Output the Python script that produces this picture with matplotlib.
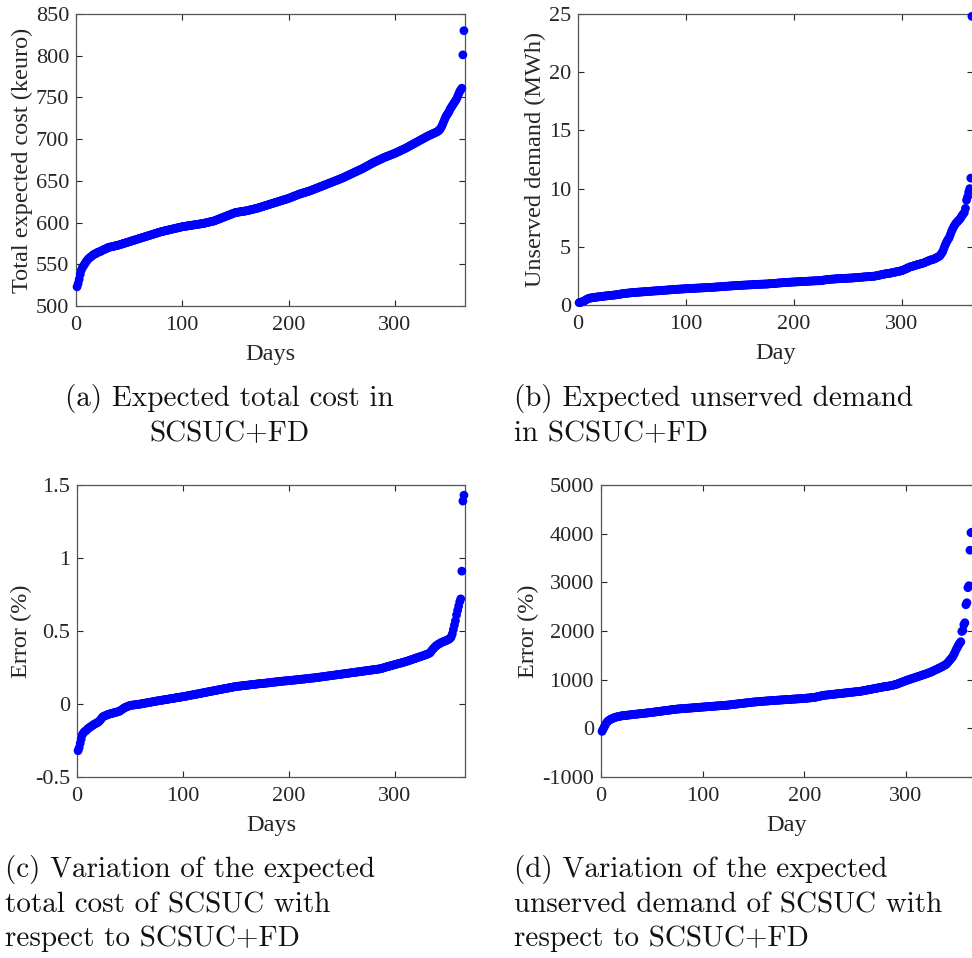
import matplotlib
matplotlib.use("Agg")
import matplotlib.pyplot as plt

# Sorted daily results over one year (365 days)
days = list(range(1, 366))

total_cost_keuro = [
    523, 527, 532, 538, 543, 546, 548, 550, 552, 554,
    555.5, 557, 558, 559, 560, 561, 562, 562.5, 563, 564,
    564.5, 565, 565.5, 566, 567, 567.5, 568, 568.5, 569, 570,
    570.3, 570.6, 570.9, 571.2, 571.5, 571.8, 572.1, 572.4, 572.7, 573,
    573.4, 573.8, 574.2, 574.6, 575, 575.4, 575.8, 576.2, 576.6, 577,
    577.4, 577.8, 578.2, 578.6, 579, 579.4, 579.8, 580.2, 580.6, 581,
    581.4, 581.8, 582.2, 582.6, 583, 583.4, 583.8, 584.2, 584.6, 585,
    585.4, 585.8, 586.2, 586.6, 587, 587.4, 587.8, 588.2, 588.6, 589,
    589.3, 589.6, 589.9, 590.2, 590.5, 590.8, 591.1, 591.4, 591.7, 592,
    592.3, 592.6, 592.9, 593.2, 593.5, 593.8, 594.1, 594.4, 594.7, 595,
    595.2, 595.4, 595.6, 595.8, 596, 596.2, 596.4, 596.6, 596.8, 597,
    597.2, 597.4, 597.6, 597.8, 598, 598.2, 598.4, 598.6, 598.8, 599,
    599.3, 599.6, 599.9, 600.2, 600.5, 600.8, 601.1, 601.4, 601.7, 602,
    602.5, 603, 603.5, 604, 604.5, 605, 605.5, 606, 606.5, 607,
    607.5, 608, 608.5, 609, 609.5, 610, 610.5, 611, 611.5, 612,
    612.2, 612.4, 612.6, 612.8, 613, 613.2, 613.4, 613.6, 613.8, 614,
    614.3, 614.6, 614.9, 615.2, 615.5, 615.8, 616.1, 616.4, 616.7, 617,
    617.4, 617.8, 618.2, 618.6, 619, 619.4, 619.8, 620.2, 620.6, 621,
    621.4, 621.8, 622.2, 622.6, 623, 623.4, 623.8, 624.2, 624.6, 625,
    625.4, 625.8, 626.2, 626.6, 627, 627.4, 627.8, 628.2, 628.6, 629,
    629.5, 630, 630.5, 631, 631.5, 632, 632.5, 633, 633.5, 634,
    634.4, 634.8, 635.2, 635.6, 636, 636.4, 636.8, 637.2, 637.6, 638,
    638.5, 639, 639.5, 640, 640.5, 641, 641.5, 642, 642.5, 643,
    643.5, 644, 644.5, 645, 645.5, 646, 646.5, 647, 647.5, 648,
    648.5, 649, 649.5, 650, 650.5, 651, 651.5, 652, 652.5, 653,
    653.6, 654.2, 654.8, 655.4, 656, 656.6, 657.2, 657.8, 658.4, 659,
    659.6, 660.2, 660.8, 661.4, 662, 662.6, 663.2, 663.8, 664.4, 665,
    665.7, 666.4, 667.1, 667.8, 668.5, 669.2, 669.9, 670.6, 671.3, 672,
    672.6, 673.2, 673.8, 674.4, 675, 675.6, 676.2, 676.8, 677.4, 678,
    678.5, 679, 679.5, 680, 680.5, 681, 681.5, 682, 682.5, 683,
    683.6, 684.2, 684.8, 685.4, 686, 686.6, 687.2, 687.8, 688.4, 689,
    689.7, 690.4, 691.1, 691.8, 692.5, 693.2, 693.9, 694.6, 695.3, 696,
    696.7, 697.4, 698.1, 698.8, 699.5, 700.2, 700.9, 701.6, 702.3, 703,
    703.6, 704.2, 704.8, 705.4, 706, 706.6, 707.2, 707.8, 708.4, 709,
    710, 711, 713, 715, 718, 721, 724, 727, 729, 731,
    733, 736, 738, 740, 742, 744, 746, 748, 751, 754,
    757, 759, 761, 801, 830,
]

unserved_mwh = [
    0.2, 0.22, 0.25, 0.28, 0.3, 0.36, 0.42, 0.48, 0.53, 0.57,
    0.59, 0.61, 0.62, 0.64, 0.65, 0.66, 0.68, 0.69, 0.7, 0.71,
    0.72, 0.73, 0.74, 0.76, 0.77, 0.78, 0.79, 0.8, 0.81, 0.82,
    0.83, 0.84, 0.85, 0.86, 0.87, 0.89, 0.9, 0.92, 0.93, 0.95,
    0.96, 0.98, 0.99, 1.0, 1.01, 1.02, 1.03, 1.04, 1.05, 1.06,
    1.07, 1.07, 1.08, 1.09, 1.1, 1.1, 1.11, 1.12, 1.12, 1.13,
    1.14, 1.14, 1.15, 1.16, 1.16, 1.17, 1.18, 1.19, 1.19, 1.2,
    1.21, 1.21, 1.22, 1.22, 1.23, 1.24, 1.24, 1.25, 1.26, 1.27,
    1.27, 1.28, 1.29, 1.3, 1.3, 1.31, 1.32, 1.33, 1.33, 1.34,
    1.35, 1.35, 1.36, 1.36, 1.37, 1.37, 1.38, 1.39, 1.39, 1.4,
    1.4, 1.41, 1.41, 1.42, 1.42, 1.43, 1.43, 1.44, 1.44, 1.45,
    1.45, 1.46, 1.46, 1.47, 1.47, 1.48, 1.48, 1.49, 1.49, 1.5,
    1.5, 1.51, 1.51, 1.52, 1.52, 1.53, 1.54, 1.54, 1.55, 1.56,
    1.56, 1.57, 1.58, 1.59, 1.59, 1.6, 1.61, 1.61, 1.62, 1.63,
    1.63, 1.64, 1.65, 1.65, 1.66, 1.67, 1.67, 1.68, 1.68, 1.69,
    1.69, 1.7, 1.7, 1.71, 1.71, 1.72, 1.72, 1.73, 1.73, 1.74,
    1.74, 1.75, 1.75, 1.76, 1.76, 1.77, 1.77, 1.78, 1.78, 1.79,
    1.79, 1.79, 1.8, 1.8, 1.8, 1.81, 1.82, 1.83, 1.83, 1.84,
    1.85, 1.86, 1.86, 1.87, 1.88, 1.89, 1.9, 1.9, 1.91, 1.92,
    1.92, 1.93, 1.94, 1.94, 1.95, 1.95, 1.96, 1.97, 1.97, 1.98,
    1.98, 1.99, 1.99, 2.0, 2.0, 2.01, 2.01, 2.02, 2.02, 2.03,
    2.03, 2.04, 2.04, 2.05, 2.05, 2.06, 2.06, 2.07, 2.07, 2.08,
    2.08, 2.08, 2.09, 2.09, 2.09, 2.11, 2.13, 2.14, 2.16, 2.17,
    2.18, 2.19, 2.2, 2.21, 2.22, 2.22, 2.23, 2.24, 2.25, 2.25,
    2.26, 2.26, 2.27, 2.27, 2.28, 2.28, 2.29, 2.29, 2.3, 2.3,
    2.31, 2.31, 2.32, 2.32, 2.33, 2.34, 2.34, 2.35, 2.36, 2.37,
    2.38, 2.38, 2.39, 2.4, 2.41, 2.42, 2.42, 2.43, 2.44, 2.45,
    2.45, 2.46, 2.47, 2.47, 2.48, 2.5, 2.52, 2.54, 2.56, 2.58,
    2.6, 2.62, 2.64, 2.66, 2.68, 2.69, 2.7, 2.72, 2.73, 2.75,
    2.77, 2.79, 2.81, 2.83, 2.85, 2.87, 2.89, 2.91, 2.93, 2.95,
    2.99, 3.03, 3.07, 3.11, 3.15, 3.2, 3.25, 3.28, 3.3, 3.33,
    3.36, 3.39, 3.42, 3.45, 3.48, 3.5, 3.53, 3.55, 3.58, 3.6,
    3.64, 3.68, 3.72, 3.76, 3.8, 3.85, 3.87, 3.89, 3.92, 3.95,
    4.0, 4.05, 4.1, 4.15, 4.2, 4.32, 4.45, 4.6, 4.85, 5.1,
    5.3, 5.5, 5.65, 5.8, 6.05, 6.3, 6.5, 6.7, 6.85, 7.0,
    7.1, 7.2, 7.3, 7.4, 7.55, 7.7, 7.82, 7.95, 8.3, 9.0,
    9.3, 9.7, 10.0, 10.9, 24.8,
]

cost_error_pct = [
    -0.32, -0.3, -0.27, -0.24, -0.21, -0.2, -0.19, -0.185, -0.18, -0.17,
    -0.165, -0.16, -0.155, -0.15, -0.145, -0.14, -0.136, -0.132, -0.128, -0.125,
    -0.118, -0.11, -0.1, -0.09, -0.085, -0.082, -0.079, -0.076, -0.073, -0.07,
    -0.068, -0.066, -0.064, -0.062, -0.06, -0.058, -0.056, -0.054, -0.052, -0.05,
    -0.045, -0.04, -0.035, -0.03, -0.025, -0.022, -0.019, -0.016, -0.013, -0.01,
    -0.009, -0.008, -0.007, -0.006, -0.005, -0.004, -0.003, -0.002, -0.001, 0.0,
    0.001, 0.003, 0.004, 0.005, 0.007, 0.008, 0.009, 0.011, 0.012, 0.013,
    0.015, 0.016, 0.017, 0.019, 0.02, 0.021, 0.022, 0.024, 0.025, 0.026,
    0.027, 0.028, 0.03, 0.031, 0.032, 0.033, 0.034, 0.036, 0.037, 0.038,
    0.039, 0.04, 0.042, 0.043, 0.044, 0.045, 0.046, 0.048, 0.049, 0.05,
    0.051, 0.053, 0.054, 0.055, 0.057, 0.058, 0.06, 0.061, 0.062, 0.064,
    0.065, 0.067, 0.068, 0.069, 0.071, 0.072, 0.074, 0.075, 0.076, 0.078,
    0.079, 0.081, 0.082, 0.084, 0.085, 0.086, 0.088, 0.089, 0.091, 0.092,
    0.093, 0.095, 0.096, 0.098, 0.099, 0.1, 0.102, 0.103, 0.105, 0.106,
    0.107, 0.109, 0.11, 0.112, 0.113, 0.114, 0.116, 0.117, 0.119, 0.12,
    0.121, 0.122, 0.122, 0.123, 0.124, 0.125, 0.126, 0.127, 0.128, 0.128,
    0.129, 0.13, 0.131, 0.132, 0.133, 0.134, 0.134, 0.135, 0.136, 0.137,
    0.138, 0.139, 0.139, 0.14, 0.14, 0.141, 0.142, 0.143, 0.144, 0.145,
    0.145, 0.146, 0.147, 0.148, 0.149, 0.15, 0.151, 0.151, 0.152, 0.153,
    0.154, 0.155, 0.156, 0.156, 0.157, 0.158, 0.158, 0.159, 0.16, 0.16,
    0.161, 0.162, 0.163, 0.163, 0.164, 0.165, 0.166, 0.166, 0.167, 0.168,
    0.169, 0.17, 0.17, 0.171, 0.172, 0.173, 0.174, 0.175, 0.176, 0.176,
    0.177, 0.178, 0.178, 0.179, 0.18, 0.181, 0.182, 0.183, 0.184, 0.185,
    0.186, 0.187, 0.188, 0.189, 0.19, 0.191, 0.192, 0.193, 0.194, 0.195,
    0.196, 0.197, 0.198, 0.199, 0.2, 0.201, 0.202, 0.203, 0.204, 0.205,
    0.206, 0.207, 0.208, 0.209, 0.21, 0.211, 0.212, 0.213, 0.214, 0.215,
    0.216, 0.217, 0.218, 0.219, 0.22, 0.221, 0.222, 0.223, 0.224, 0.225,
    0.226, 0.227, 0.228, 0.229, 0.23, 0.231, 0.232, 0.233, 0.234, 0.235,
    0.236, 0.237, 0.238, 0.239, 0.24, 0.241, 0.243, 0.245, 0.247, 0.25,
    0.252, 0.254, 0.256, 0.258, 0.26, 0.262, 0.264, 0.266, 0.268, 0.27,
    0.272, 0.274, 0.276, 0.278, 0.28, 0.282, 0.284, 0.286, 0.288, 0.29,
    0.292, 0.295, 0.297, 0.3, 0.302, 0.305, 0.307, 0.31, 0.312, 0.315,
    0.318, 0.32, 0.322, 0.325, 0.327, 0.33, 0.332, 0.335, 0.337, 0.34,
    0.343, 0.347, 0.35, 0.36, 0.37, 0.378, 0.386, 0.393, 0.4, 0.405,
    0.41, 0.414, 0.418, 0.422, 0.425, 0.428, 0.431, 0.434, 0.437, 0.44,
    0.445, 0.45, 0.46, 0.48, 0.51, 0.54, 0.57, 0.61, 0.64, 0.67,
    0.7, 0.72, 0.91, 1.39, 1.43,
]

unserved_error_pct = [
    -63, -20, 20, 60, 100, 130, 150, 165, 180, 190,
    200, 209, 217, 225, 232, 237, 242, 246, 251, 255,
    258, 261, 263, 265, 268, 270, 273, 275, 278, 280,
    282, 285, 287, 290, 292, 294, 297, 299, 301, 304,
    306, 308, 311, 313, 315, 318, 320, 322, 325, 327,
    330, 333, 336, 338, 341, 344, 347, 350, 352, 355,
    358, 361, 363, 366, 369, 372, 374, 377, 380, 383,
    385, 388, 390, 393, 396, 398, 399, 401, 403, 404,
    406, 407, 409, 411, 412, 414, 415, 417, 419, 420,
    422, 424, 425, 427, 429, 430, 432, 434, 435, 437,
    439, 440, 442, 443, 445, 447, 448, 450, 451, 453,
    455, 456, 458, 460, 461, 463, 465, 466, 468, 470,
    471, 473, 474, 476, 478, 480, 483, 485, 488, 490,
    493, 495, 498, 500, 503, 505, 508, 510, 512, 515,
    518, 520, 522, 525, 527, 530, 532, 535, 537, 540,
    542, 543, 545, 547, 548, 550, 552, 553, 555, 557,
    558, 560, 562, 563, 565, 567, 568, 570, 572, 573,
    575, 576, 577, 578, 580, 581, 583, 584, 586, 587,
    588, 590, 591, 593, 594, 595, 597, 598, 600, 601,
    602, 604, 605, 606, 608, 609, 610, 612, 613, 615,
    617, 619, 621, 623, 625, 627, 629, 631, 633, 635,
    640, 645, 650, 655, 660, 664, 668, 672, 676, 680,
    682, 684, 687, 689, 691, 694, 696, 698, 701, 703,
    705, 708, 710, 712, 715, 717, 719, 722, 724, 726,
    728, 731, 733, 735, 738, 740, 742, 745, 747, 750,
    752, 754, 756, 758, 760, 764, 768, 772, 776, 780,
    784, 788, 792, 796, 800, 804, 808, 812, 816, 820,
    824, 828, 832, 836, 840, 844, 848, 852, 856, 860,
    862, 865, 868, 872, 876, 880, 885, 890, 895, 900,
    908, 916, 924, 932, 940, 948, 956, 964, 972, 980,
    987, 994, 1001, 1008, 1015, 1022, 1029, 1036, 1043, 1050,
    1057, 1064, 1071, 1078, 1085, 1092, 1099, 1106, 1113, 1120,
    1128, 1136, 1144, 1152, 1160, 1170, 1180, 1190, 1200, 1210,
    1220, 1230, 1240, 1250, 1260, 1272, 1284, 1296, 1308, 1320,
    1345, 1370, 1395, 1420, 1445, 1470, 1510, 1550, 1600, 1640,
    1680, 1720, 1750, 1780, 1990, 2010, 2130, 2170, 2540, 2580,
    2890, 2930, 3660, 4020, 4030,
]

x_ticks = [0, 100, 200, 300]
yticks_a = [500, 550, 600, 650, 700, 750, 800, 850]
yticks_b = [0, 5, 10, 15, 20, 25]
yticks_c = [-0.5, 0, 0.5, 1, 1.5]
yticks_c_labels = ["-0.5", "0", "0.5", "1", "1.5"]
yticks_d = [-1000, 0, 1000, 2000, 3000, 4000, 5000]
yticks_d_labels = ["-1000", "0", "1000", "2000", "3000", "4000", "5000"]

captions = {
    "a": "(a) Expected total cost in\nSCSUC+FD",
    "b": "(b) Expected unserved demand\nin SCSUC+FD",
    "c": "(c) Variation of the expected\ntotal cost of SCSUC with\nrespect to SCSUC+FD",
    "d": "(d) Variation of the expected\nunserved demand of SCSUC with\nrespect to SCSUC+FD",
}

W, H = 972, 958
fig = plt.figure(figsize=(W / 100, H / 100), dpi=100)

TICK_FONT = "Liberation Serif"
CAP_FONT = "cmr10"
AX_COLOR = "#262626"
MARK_COLOR = "#0000ff"


def px_axes(left, top, right, bottom):
    return fig.add_axes([left / W, 1 - bottom / H, (right - left) / W, (bottom - top) / H])


def style(ax, ylim, yticks, ylabels, xlabel, ylabel):
    ax.set_xlim(0, 366)
    ax.set_ylim(*ylim)
    ax.set_xticks(x_ticks)
    ax.set_xticklabels([str(t) for t in x_ticks])
    ax.set_yticks(yticks)
    ax.set_yticklabels(ylabels)
    ax.tick_params(direction="in", length=4, width=0.8, top=True, right=True,
                   colors=AX_COLOR, labelsize=16)
    ax.tick_params(axis="x", pad=7)
    ax.tick_params(axis="y", pad=5)
    for lab in ax.get_xticklabels() + ax.get_yticklabels():
        lab.set_fontfamily(TICK_FONT)
    for sp in ax.spines.values():
        sp.set_color("#555555")
        sp.set_linewidth(0.9)
    ax.set_xlabel(xlabel, fontfamily=TICK_FONT, fontsize=17.5, color=AX_COLOR, labelpad=7)
    ax.set_ylabel(ylabel, fontfamily=TICK_FONT, fontsize=17.5, color=AX_COLOR, labelpad=2)


def dots(ax, y):
    ax.scatter(days, y, s=40, color=MARK_COLOR, edgecolors="none", clip_on=False, zorder=3)


ax_a = px_axes(76, 14, 465, 306)
dots(ax_a, total_cost_keuro)
style(ax_a, (500, 850), yticks_a, [str(t) for t in yticks_a], "Days",
      "Total expected cost (keuro)")

ax_b = px_axes(578, 14, 973, 305)
dots(ax_b, unserved_mwh)
style(ax_b, (0, 25), yticks_b, [str(t) for t in yticks_b], "Day",
      "Unserved demand (MWh)")

ax_c = px_axes(77, 485, 465, 777)
dots(ax_c, cost_error_pct)
style(ax_c, (-0.5, 1.5), yticks_c, yticks_c_labels, "Days", "Error (%)")

ax_d = px_axes(601, 485, 973, 777)
dots(ax_d, unserved_error_pct)
style(ax_d, (-1000, 5000), yticks_d, yticks_d_labels, "Day", "Error (%)")

cap_kw = dict(fontfamily=CAP_FONT, fontsize=21, color="#111111", va="top", linespacing=1.38)
fig.text(229 / W, 1 - 384 / H, captions["a"], ha="center", multialignment="center", **cap_kw)
fig.text(514 / W, 1 - 384 / H, captions["b"], ha="left", **cap_kw)
fig.text(5 / W, 1 - 855 / H, captions["c"], ha="left", **cap_kw)
fig.text(514 / W, 1 - 855 / H, captions["d"], ha="left", **cap_kw)

fig.savefig("out.png", dpi=100)
